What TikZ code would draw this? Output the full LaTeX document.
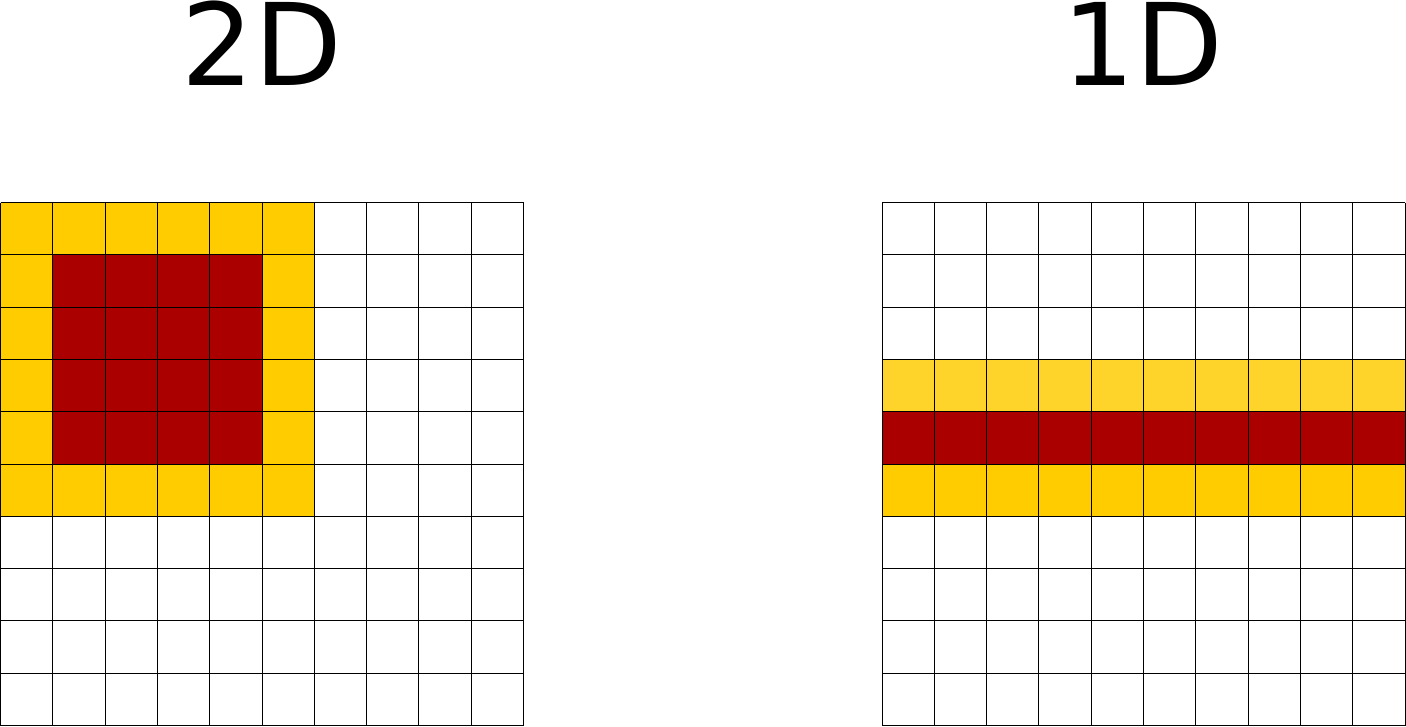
\documentclass[tikz,border=0pt]{standalone}
\usepackage{fontspec}
\setmainfont{DejaVu Sans}
\definecolor{yel}{HTML}{FFCC00}
\definecolor{yellt}{HTML}{FFD42A}
\definecolor{dred}{HTML}{AA0000}
\tikzset{cellline/.style={draw=black,line width=1pt},
  title/.style={font=\fontsize{114}{114}\selectfont,inner sep=0pt,anchor=base}}
\begin{document}
\begin{tikzpicture}[x=1pt,y=-1pt]
\useasboundingbox (0,0) rectangle (1406,726);
\def\cs{52.3}
% left grid fills
\fill[yel] (0.5,202.5) rectangle ++(6*\cs,6*\cs);
\fill[dred] (0.5+\cs,202.5+\cs) rectangle ++(4*\cs,4*\cs);
% right grid fills
\fill[yellt] (882,202.5+3*\cs) rectangle ++(10*\cs,\cs);
\fill[dred] (882,202.5+4*\cs) rectangle ++(10*\cs,\cs);
\fill[yel] (882,202.5+5*\cs) rectangle ++(10*\cs,\cs);
% grids
\foreach \i in {0,...,10}{
  \draw[cellline] (0.5+\i*\cs,202.5) -- (0.5+\i*\cs,202.5+10*\cs);
  \draw[cellline] (0.5,202.5+\i*\cs) -- (0.5+10*\cs,202.5+\i*\cs);
  \draw[cellline] (882+\i*\cs,202.5) -- (882+\i*\cs,202.5+10*\cs);
  \draw[cellline] (882,202.5+\i*\cs) -- (882+10*\cs,202.5+\i*\cs);
}
\node[title] (t2) at (262,85) {2D};
\node[title] (t1) at (1143,85) {1D};
\end{tikzpicture}
\end{document}
